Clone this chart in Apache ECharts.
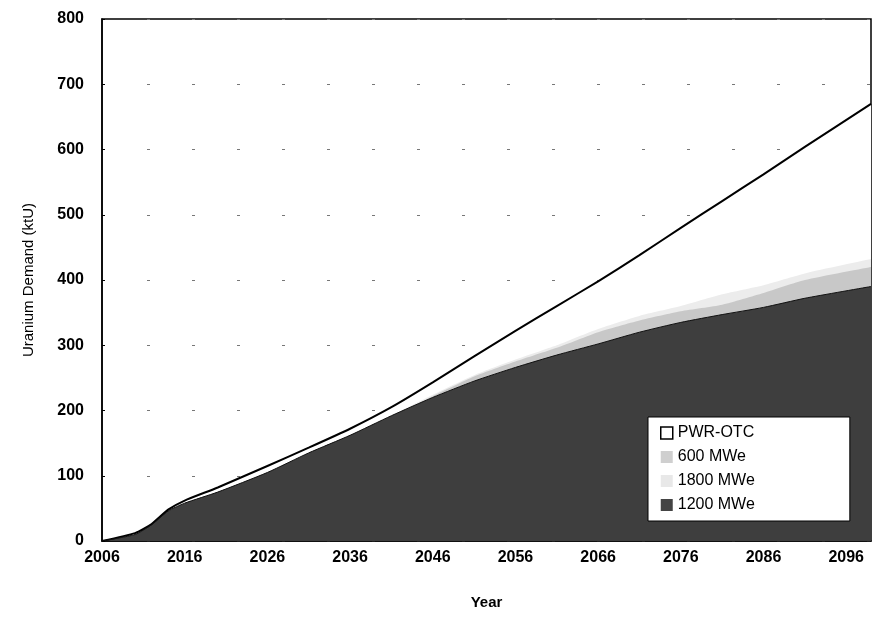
<!DOCTYPE html>
<html>
<head>
<meta charset="utf-8">
<script src="https://cdn.jsdelivr.net/npm/echarts@6/dist/echarts.min.js"></script>
<style>html,body{margin:0;padding:0;background:#fff}</style>
</head>
<body>
<div id="main" style="width:874px;height:628px;"></div>
<script>
// data (ktU)
var baseYear = 2006;
var years      = [2006, 2010, 2012, 2014, 2016, 2020, 2026, 2031, 2036, 2041, 2046, 2051, 2056, 2061, 2066, 2071, 2076, 2081, 2086, 2091, 2099];
var pwrOtc     = [0, 12, 26, 48, 62, 82, 115, 143, 172, 205, 243, 283, 322, 360, 398, 438, 480, 521, 562, 604, 670];
var mwe600     = [0, 10, 25, 46, 58, 75, 105, 135, 162, 192, 222, 252, 275, 296, 320, 338, 352, 362, 380, 400, 420];
var mwe1800    = [0, 10, 25, 46, 58, 75, 105, 135, 162, 192, 224, 254, 278, 300, 325, 345, 360, 378, 392, 410, 432];
var mwe1200    = [0, 10, 25, 46, 58, 75, 105, 135, 162, 192, 220, 245, 266, 285, 302, 320, 335, 347, 358, 372, 390];
var yTicks = [0, 100, 200, 300, 400, 500, 600, 700, 800];

function pairs(vals) {
  return years.map(function (y, i) { return [y - baseYear, vals[i]]; });
}

var font = "'Liberation Sans', Arial, sans-serif";
var myChart = echarts.init(document.getElementById("main"));

var option = {
  animation: false,
  backgroundColor: "#fff",
  grid: {
    left: 102, right: -2, top: 19, bottom: 87,
    show: true, borderColor: "#000", borderWidth: 1.5
  },
  legend: {
    orient: "vertical",
    left: 648, top: 417,
    padding: [8, 95, 8, 12],
    itemGap: 8,
    itemWidth: 12, itemHeight: 12,
    backgroundColor: "#fff",
    borderColor: "#000", borderWidth: 1,
    textStyle: { fontFamily: font, fontSize: 16, color: "#000" },
    data: [
      { name: "PWR-OTC", icon: "rect", itemStyle: { color: "#fff", borderColor: "#000", borderWidth: 1.5 } },
      { name: "600 MWe", icon: "rect", itemStyle: { color: "#cfcfcf", borderWidth: 0 } },
      { name: "1800 MWe", icon: "rect", itemStyle: { color: "#e8e8e8", borderWidth: 0 } },
      { name: "1200 MWe", icon: "rect", itemStyle: { color: "#444", borderWidth: 0 } }
    ]
  },
  xAxis: {
    type: "value",
    min: 0, max: 93, interval: 10,
    name: "Year",
    nameLocation: "middle",
    nameGap: 54,
    nameTextStyle: { fontFamily: font, fontSize: 15, fontWeight: "bold", color: "#000" },
    axisLine: { show: true, lineStyle: { color: "#000", width: 1.5 } },
    axisTick: { show: false },
    splitLine: { show: false },
    axisLabel: {
      margin: 9,
      fontFamily: font, fontSize: 16, fontWeight: "bold", color: "#000",
      formatter: function (v) { return v % 10 === 0 ? String(v + baseYear) : ""; }
    }
  },
  yAxis: {
    type: "value",
    min: yTicks[0], max: yTicks[yTicks.length - 1], interval: 100,
    name: "Uranium Demand (ktU)",
    nameLocation: "middle",
    nameGap: 66,
    nameTextStyle: { fontFamily: font, fontSize: 15, color: "#000" },
    axisLine: { show: true, lineStyle: { color: "#000", width: 1.5 } },
    axisTick: { show: true, inside: true, length: 3, lineStyle: { color: "#000" } },
    splitLine: { show: true, lineStyle: { color: "#777", width: 1, type: [3, 42] } },
    axisLabel: {
      margin: 18,
      fontFamily: font, fontSize: 16, fontWeight: "bold", color: "#000"
    }
  },
  series: [
    {
      name: "PWR-OTC", type: "line", data: pairs(pwrOtc),
      showSymbol: false, smooth: 0.2,
      itemStyle: { color: "#fff", borderColor: "#000" },
      lineStyle: { color: "#000", width: 2 },
      areaStyle: { color: "#fff", opacity: 1 }
    },
    {
      name: "1800 MWe", type: "line", data: pairs(mwe1800),
      showSymbol: false, smooth: 0.2,
      itemStyle: { color: "#e8e8e8" },
      lineStyle: { width: 0 },
      areaStyle: { color: "#ececec", opacity: 1 }
    },
    {
      name: "600 MWe", type: "line", data: pairs(mwe600),
      showSymbol: false, smooth: 0.2,
      itemStyle: { color: "#cfcfcf" },
      lineStyle: { width: 0 },
      areaStyle: { color: "#c8c8c8", opacity: 1 }
    },
    {
      name: "1200 MWe", type: "line", data: pairs(mwe1200),
      showSymbol: false, smooth: 0.2,
      itemStyle: { color: "#444" },
      lineStyle: { color: "#111", width: 1 },
      areaStyle: { color: "#3e3e3e", opacity: 1 }
    }
  ]
};

myChart.setOption(option);
</script>
</body>
</html>
